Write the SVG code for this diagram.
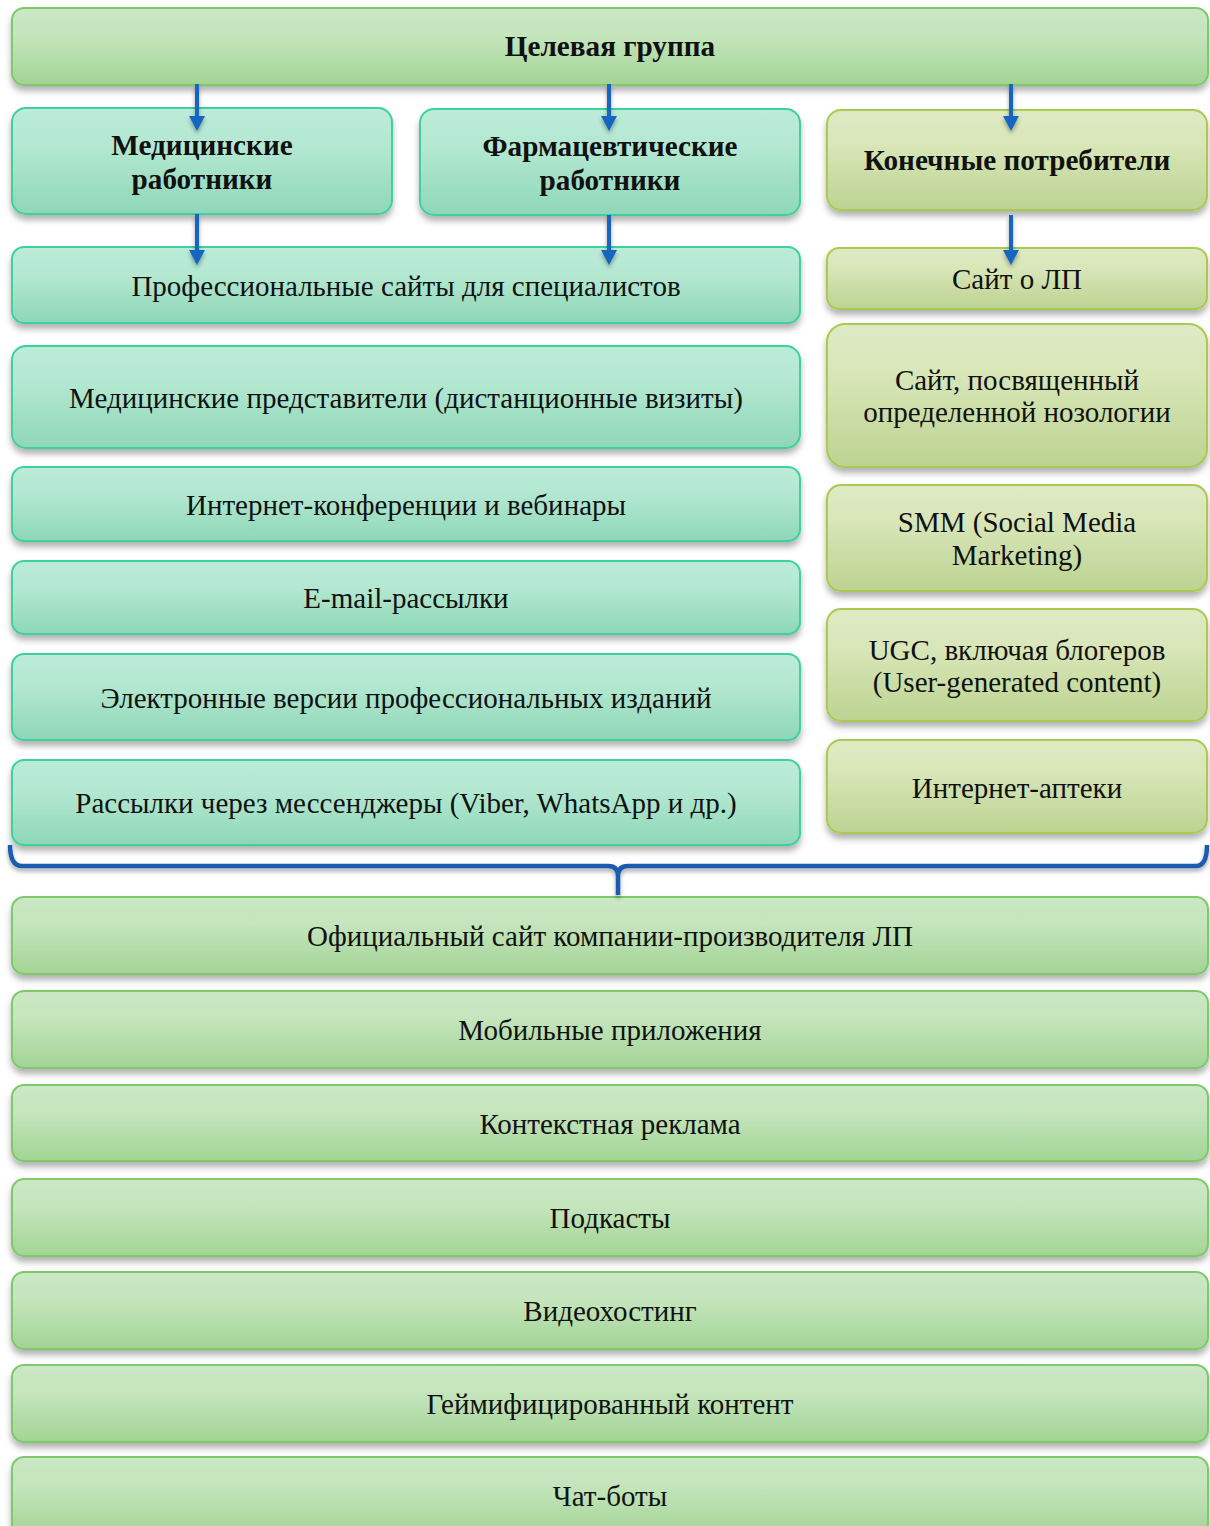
<svg xmlns="http://www.w3.org/2000/svg" width="1210" height="1526" viewBox="0 0 1210 1526">
<defs>
<linearGradient id="gG" x1="0" y1="0" x2="0" y2="1"><stop offset="0" stop-color="#cbe8c4"/><stop offset="0.35" stop-color="#c5e5bd"/><stop offset="1" stop-color="#a2d494"/></linearGradient>
<linearGradient id="gT" x1="0" y1="0" x2="0" y2="1"><stop offset="0" stop-color="#bcecd8"/><stop offset="0.35" stop-color="#b4e8d2"/><stop offset="1" stop-color="#8ed7b8"/></linearGradient>
<linearGradient id="gO" x1="0" y1="0" x2="0" y2="1"><stop offset="0" stop-color="#dfeac4"/><stop offset="0.35" stop-color="#d8e6b8"/><stop offset="1" stop-color="#bcd391"/></linearGradient>
<filter id="sh" x="-5%" y="-10%" width="110%" height="140%"><feDropShadow dx="0" dy="5" stdDeviation="3" flood-color="#000" flood-opacity="0.3"/></filter>
<filter id="shb" x="-5%" y="-50%" width="110%" height="200%"><feDropShadow dx="0" dy="3" stdDeviation="2" flood-color="#000" flood-opacity="0.35"/></filter>
<style>
.g{fill:url(#gG);stroke:#7dc96c;stroke-width:2;filter:url(#sh)}
.t{fill:url(#gT);stroke:#3dd19e;stroke-width:2;filter:url(#sh)}
.o{fill:url(#gO);stroke:#a9c94f;stroke-width:2;filter:url(#sh)}
text{font-family:"Liberation Serif","Times New Roman",serif;font-size:29px;fill:#111;text-anchor:middle}
.b{font-weight:bold;font-size:29.2px}
.ar{stroke:#1565c0;stroke-width:4;fill:none}
.br{stroke:#1a5cb0;stroke-width:4.5;fill:none}
.hd{fill:#1565c0}
</style>
</defs>

<g id="n-top"><rect class="g" x="12" y="8" width="1196" height="77" rx="12"/><text class="b" x="610" y="56">Целевая группа</text></g>
<g id="n-med"><rect class="t" x="12" y="108" width="380" height="106" rx="14"/><text class="b" x="202" y="155">Медицинские</text><text class="b" x="202" y="189">работники</text></g>
<g id="n-pharm"><rect class="t" x="420" y="109" width="380" height="106" rx="14"/><text class="b" x="610" y="156">Фармацевтические</text><text class="b" x="610" y="190">работники</text></g>
<g id="n-cons"><rect class="o" x="827" y="110" width="380" height="100" rx="14"/><text class="b" x="1017" y="170">Конечные потребители</text></g>

<g id="n-prof"><rect class="t" x="12" y="247" width="788" height="76" rx="12"/><text x="406" y="296">Профессиональные сайты для специалистов</text></g>
<g id="n-saitlp"><rect class="o" x="827" y="248" width="380" height="61" rx="12"/><text x="1017" y="289">Сайт о ЛП</text></g>
<g id="n-reps"><rect class="t" x="12" y="346" width="788" height="102" rx="14"/><text x="406" y="408">Медицинские представители (дистанционные визиты)</text></g>
<g id="n-noz"><rect class="o" x="827" y="324" width="380" height="143" rx="18"/><text x="1017" y="390">Сайт, посвященный</text><text x="1017" y="422">определенной нозологии</text></g>
<g id="n-conf"><rect class="t" x="12" y="467" width="788" height="74" rx="12"/><text x="406" y="515">Интернет-конференции и вебинары</text></g>
<g id="n-smm"><rect class="o" x="827" y="485" width="380" height="106" rx="14"/><text x="1017" y="532">SMM (Social Media</text><text x="1017" y="565">Marketing)</text></g>
<g id="n-email"><rect class="t" x="12" y="561" width="788" height="73" rx="12"/><text x="406" y="608">E-mail-рассылки</text></g>
<g id="n-ugc"><rect class="o" x="827" y="609" width="380" height="112" rx="14"/><text x="1017" y="660">UGC, включая блогеров</text><text x="1017" y="692">(User-generated content)</text></g>
<g id="n-elver"><rect class="t" x="12" y="654" width="788" height="86" rx="12"/><text x="406" y="708">Электронные версии профессиональных изданий</text></g>
<g id="n-apteki"><rect class="o" x="827" y="740" width="380" height="93" rx="14"/><text x="1017" y="798">Интернет-аптеки</text></g>
<g id="n-mess"><rect class="t" x="12" y="760" width="788" height="85" rx="12"/><text x="406" y="813">Рассылки через мессенджеры (Viber, WhatsApp и др.)</text></g>

<g id="n-off"><rect class="g" x="12" y="897" width="1196" height="77" rx="12"/><text x="610" y="946">Официальный сайт компании-производителя ЛП</text></g>
<g id="n-mob"><rect class="g" x="12" y="991" width="1196" height="77" rx="12"/><text x="610" y="1040">Мобильные приложения</text></g>
<g id="n-ctx"><rect class="g" x="12" y="1085" width="1196" height="76" rx="12"/><text x="610" y="1134">Контекстная реклама</text></g>
<g id="n-pod"><rect class="g" x="12" y="1179" width="1196" height="77" rx="12"/><text x="610" y="1228">Подкасты</text></g>
<g id="n-vid"><rect class="g" x="12" y="1272" width="1196" height="77" rx="12"/><text x="610" y="1321">Видеохостинг</text></g>
<g id="n-gam"><rect class="g" x="12" y="1365" width="1196" height="77" rx="12"/><text x="610" y="1414">Геймифицированный контент</text></g>
<g id="n-chat"><rect class="g" x="12" y="1457" width="1196" height="80" rx="12"/><text x="610" y="1506">Чат-боты</text></g>

<g id="connectors">
<g filter="url(#shb)">
<line class="ar" x1="197" y1="84" x2="197" y2="118"/><path class="hd" d="M189,116 L205,116 L197,131 Z"/>
<line class="ar" x1="609" y1="84" x2="609" y2="118"/><path class="hd" d="M601,116 L617,116 L609,131 Z"/>
<line class="ar" x1="1011" y1="84" x2="1011" y2="118"/><path class="hd" d="M1003,116 L1019,116 L1011,131 Z"/>
<line class="ar" x1="197" y1="214" x2="197" y2="252"/><path class="hd" d="M189,250 L205,250 L197,265 Z"/>
<line class="ar" x1="609" y1="215" x2="609" y2="252"/><path class="hd" d="M601,250 L617,250 L609,265 Z"/>
<line class="ar" x1="1011" y1="215" x2="1011" y2="252"/><path class="hd" d="M1003,250 L1019,250 L1011,265 Z"/>
<path class="br" d="M10,845 Q10,866 22,866 L608,866 Q618,866 618,876 L618,895 M618,876 Q618,866 628,866 L1196,866 Q1207,866 1207,845"/>
</g>
</g>
</svg>
